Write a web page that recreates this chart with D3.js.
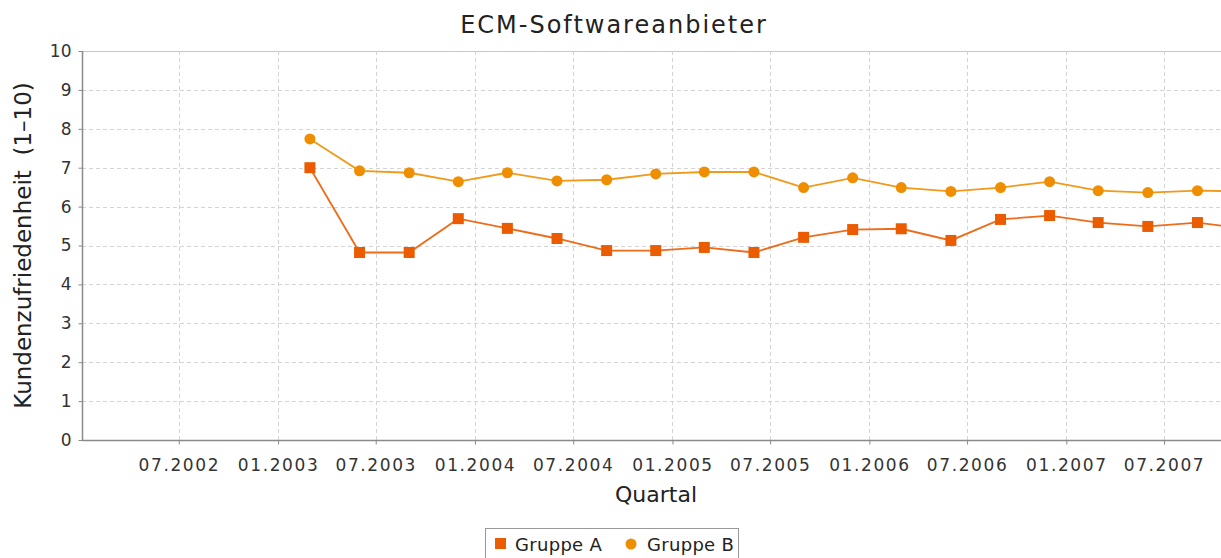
<!DOCTYPE html>
<html>
<head>
<meta charset="utf-8">
<script src="https://cdn.jsdelivr.net/npm/d3@7"></script>
<style>
  body { margin: 0; background: #fff; }
  svg { display: block; font-family: "DejaVu Sans", sans-serif; }
</style>
</head>
<body>
<div id="chart"></div>
<script>
var quarterDates = ['2003-03-01', '2003-06-01', '2003-09-01', '2003-12-01',
    '2004-03-01', '2004-06-01', '2004-09-01', '2004-12-01',
    '2005-03-01', '2005-06-01', '2005-09-01', '2005-12-01',
    '2006-03-01', '2006-06-01', '2006-09-01', '2006-12-01',
    '2007-03-01', '2007-06-01', '2007-09-01', '2007-12-01'];
var gruppeA = [7.0, 4.82, 4.82, 5.69, 5.44, 5.18, 4.87, 4.87, 4.95, 4.82, 5.21, 5.41, 5.43, 5.13, 5.67, 5.77, 5.59, 5.49, 5.59, 5.43];
var gruppeB = [7.74, 6.92, 6.87, 6.64, 6.87, 6.66, 6.69, 6.84, 6.89, 6.89, 6.49, 6.74, 6.49, 6.39, 6.49, 6.64, 6.41, 6.36, 6.41, 6.39];
var xTickDates = ['2002-07-01', '2003-01-01', '2003-07-01', '2004-01-01', '2004-07-01', '2005-01-01',
    '2005-07-01', '2006-01-01', '2006-07-01', '2007-01-01', '2007-07-01'];
var yTicks = [0, 1, 2, 3, 4, 5, 6, 7, 8, 9, 10];
var seriesNames = ['Gruppe A', 'Gruppe B'];

var width = 1221;
var height = 558;
var plotLeft = 82, plotTop = 51, plotBottom = 440;
var colorA = '#eb5c00';
var colorB = '#ef8e00';

var parse = d3.timeParse('%Y-%m-%d');
var fmt = d3.timeFormat('%m.%Y');

var svg = d3.select('#chart').append('svg')
    .attr('width', width)
    .attr('height', height);

var x = d3.scaleTime()
    .domain([parse('2002-07-01'), parse('2007-07-01')])
    .range([178.8, 1164]);
var xStart = x.invert(plotLeft);
x.domain([xStart, parse('2007-07-01')]).range([plotLeft, 1164]);

var y = d3.scaleLinear().domain([0, 10]).range([plotBottom, plotTop]);

svg.append('defs').append('clipPath').attr('id', 'plotClip')
    .append('rect').attr('x', plotLeft).attr('y', plotTop - 8)
    .attr('width', width - plotLeft).attr('height', plotBottom - plotTop + 16);

// gridlines
var grid = svg.append('g');
grid.selectAll('.hg').data(yTicks.filter(d => d > 0 && d < 10)).enter().append('line')
    .attr('x1', plotLeft).attr('x2', width)
    .attr('y1', d => Math.round(y(d)) + 0.5).attr('y2', d => Math.round(y(d)) + 0.5)
    .attr('stroke', '#d4d4d4').attr('stroke-dasharray', '4,3');
grid.selectAll('.vg').data(xTickDates).enter().append('line')
    .attr('x1', d => Math.round(x(parse(d))) + 0.5).attr('x2', d => Math.round(x(parse(d))) + 0.5)
    .attr('y1', plotTop).attr('y2', plotBottom)
    .attr('stroke', '#d4d4d4').attr('stroke-dasharray', '4,3');

// plot outline top
svg.append('line').attr('x1', plotLeft).attr('x2', width).attr('y1', plotTop + 0.5).attr('y2', plotTop + 0.5)
    .attr('stroke', '#c8c8c8');

// axes
var yAxis = svg.append('g').attr('transform', `translate(${plotLeft + 0.5},0)`)
    .call(d3.axisLeft(y).tickValues(yTicks).tickSize(4).tickPadding(7).tickFormat(d3.format('d')));
var xAxis = svg.append('g').attr('transform', `translate(0,${plotBottom + 0.5})`)
    .call(d3.axisBottom(x).tickValues(xTickDates.map(parse)).tickSize(4).tickPadding(14).tickFormat(fmt));

[yAxis, xAxis].forEach(function (ax) {
    ax.select('.domain').attr('stroke', '#8a8a8a').attr('stroke-width', 1.5);
    ax.selectAll('.tick line').attr('stroke', '#8a8a8a');
    ax.selectAll('.tick text').attr('fill', '#333').style('font-size', '17px').style('font-family', '"DejaVu Sans", sans-serif');
});
xAxis.select('.domain').attr('d', `M${plotLeft},0H${width}`);
xAxis.selectAll('.tick text').style('letter-spacing', '1.6px');
yAxis.select('.domain').attr('d', `M0,${plotTop}V${plotBottom}`);

// series
var dataA = quarterDates.map((d, i) => ({ date: parse(d), value: gruppeA[i] }));
var dataB = quarterDates.map((d, i) => ({ date: parse(d), value: gruppeB[i] }));
var line = d3.line().x(d => x(d.date)).y(d => y(d.value));

var plot = svg.append('g').attr('clip-path', 'url(#plotClip)');

plot.append('path').datum(dataB).attr('d', line)
    .attr('fill', 'none').attr('stroke', colorB).attr('stroke-width', 1.8).attr('stroke-opacity', 0.9);
plot.append('path').datum(dataA).attr('d', line)
    .attr('fill', 'none').attr('stroke', colorA).attr('stroke-width', 1.8).attr('stroke-opacity', 0.9);

plot.selectAll('.ptB').data(dataB).enter().append('circle')
    .attr('cx', d => x(d.date)).attr('cy', d => y(d.value)).attr('r', 5.5)
    .attr('fill', colorB);
plot.selectAll('.ptA').data(dataA).enter().append('rect')
    .attr('x', d => x(d.date) - 5.5).attr('y', d => y(d.value) - 5.5)
    .attr('width', 11).attr('height', 11)
    .attr('fill', colorA);

// titles
svg.append('text').attr('x', 614).attr('y', 33).attr('text-anchor', 'middle')
    .style('font-size', '24px').style('letter-spacing', '2px').attr('fill', '#222')
    .text('ECM-Softwareanbieter');

svg.append('text').attr('transform', `translate(31,${(plotTop + plotBottom) / 2})rotate(-90)`)
    .attr('text-anchor', 'middle').style('font-size', '23px').attr('fill', '#222')
    .style('white-space', 'pre')
    .text('Kundenzufriedenheit  (1\u201310)');

svg.append('text').attr('x', 656).attr('y', 502).attr('text-anchor', 'middle')
    .style('font-size', '22px').attr('fill', '#222')
    .text('Quartal');

// legend
var legend = svg.append('g');
legend.append('rect').attr('x', 485.5).attr('y', 528.5).attr('width', 253).attr('height', 40)
    .attr('fill', '#fff').attr('stroke', '#999');
legend.append('rect').attr('x', 495).attr('y', 538).attr('width', 11).attr('height', 11).attr('fill', colorA);
legend.append('circle').attr('cx', 631).attr('cy', 544).attr('r', 5.5).attr('fill', colorB);
legend.selectAll('.lt').data(seriesNames).enter().append('text')
    .attr('x', (d, i) => i === 0 ? 515 : 647).attr('y', 551)
    .style('font-size', '18px').style('letter-spacing', '0.3px').attr('fill', '#222')
    .text(d => d);
</script>
</body>
</html>
